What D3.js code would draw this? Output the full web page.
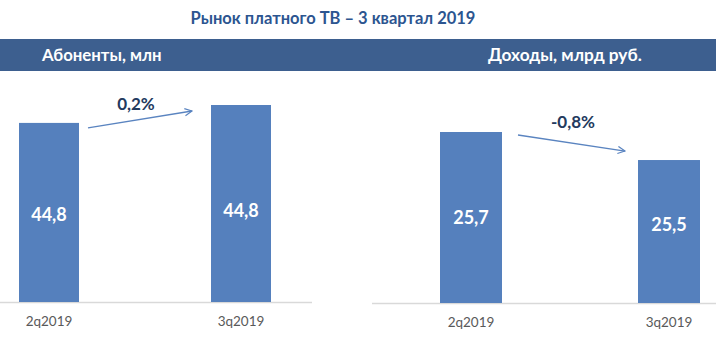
<!DOCTYPE html>
<html><head><meta charset="utf-8">
<script src="https://cdn.jsdelivr.net/npm/d3@7"></script>
<style>
html,body{margin:0;padding:0;background:#fff;}
svg{display:block;font-family:Lato,"Open Sans",sans-serif;}
</style></head>
<body>
<svg id="chart" width="716" height="337"></svg>
<script>
// ---- data ----
const title = "Рынок платного ТВ – 3 квартал 2019";
const categories = ["2q2019", "3q2019"];
const subscribers = [44.76, 44.84];        // млн
const subscriberLabels = ["44,8", "44,8"];
const subscriberChange = "0,2%";
const revenue = [25.7, 25.5];              // млрд руб.
const revenueLabels = ["25,7", "25,5"];
const revenueChange = "-0,8%";
const panelTitles = ["Абоненты, млн", "Доходы, млрд руб."];

const svg = d3.select("#chart");
const BAR = "#5580bd", BAND = "#3d5f8f", DARK = "#233a5e";

svg.append("defs").append("marker")
  .attr("id","arr").attr("viewBox","0 0 10 10").attr("refX",9).attr("refY",5)
  .attr("markerWidth",9).attr("markerHeight",9).attr("markerUnits","userSpaceOnUse")
  .attr("orient","auto")
  .append("path").attr("d","M1,1 L9,5 L1,9").attr("fill","none")
  .attr("stroke","#5a84c0").attr("stroke-width",1.3);

// title
svg.append("text").attr("x",333).attr("y",24).attr("text-anchor","middle")
  .attr("font-size",16.5).attr("font-weight","bold").attr("fill","#2c5590").text(title);

// header band
svg.append("rect").attr("x",0).attr("y",39).attr("width",716).attr("height",32).attr("fill",BAND);
svg.append("text").attr("x",42).attr("y",61).attr("font-size",16.8).attr("font-weight","bold")
  .attr("fill","#fff").text(panelTitles[0]);
svg.append("text").attr("x",488).attr("y",61).attr("font-size",17.3).attr("font-weight","bold")
  .attr("fill","#fff").text(panelTitles[1]);

function panel(cfg){
  const x = d3.scaleBand().domain(categories).range(cfg.xRange)
    .paddingInner(cfg.pi).paddingOuter(cfg.pi/2);
  const y = d3.scaleLinear().domain(cfg.yDomain).range(cfg.yRange);
  const base = cfg.yRange[0];
  const g = svg.append("g");
  // axis line
  g.append("line").attr("x1",cfg.axisX[0]).attr("x2",cfg.axisX[1])
    .attr("y1",base+0.5).attr("y2",base+0.5).attr("stroke","#d9d9d9").attr("stroke-width",1.5);
  // bars
  g.selectAll("rect.bar").data(cfg.values).join("rect").attr("class","bar")
    .attr("x",(d,i)=>x(categories[i])).attr("width",x.bandwidth())
    .attr("y",d=>y(d)).attr("height",d=>base-y(d)).attr("fill",BAR);
  // value labels
  g.selectAll("text.val").data(cfg.values).join("text").attr("class","val")
    .attr("x",(d,i)=>x(categories[i])+x.bandwidth()/2)
    .attr("y",d=>((y(d)+base)/2)*0.5+(base-85)*0.5)
    .attr("dy","0.35em").attr("text-anchor","middle")
    .attr("font-size",18).attr("font-weight","bold").attr("fill","#fff")
    .text((d,i)=>cfg.labels[i]);
  // category labels (axis)
  const ax = d3.axisBottom(x).tickSize(0).tickPadding(14);
  const axg = g.append("g").attr("transform",`translate(0,${base})`).call(ax);
  axg.select(".domain").remove();
  axg.selectAll("text").attr("font-size",13.5).attr("fill","#595959")
    .attr("font-family","Lato,'Open Sans',sans-serif");
  // arrow
  const x0 = x(categories[0])+x.bandwidth()+cfg.arrow[0];
  const y0 = y(cfg.values[0])+cfg.arrow[1];
  const x1 = x(categories[1])+cfg.arrow[2];
  const y1 = y(cfg.values[1])+cfg.arrow[3];
  g.append("line").attr("x1",x0).attr("y1",y0).attr("x2",x1).attr("y2",y1)
    .attr("stroke","#5a84c0").attr("stroke-width",1.3).attr("marker-end","url(#arr)");
  g.append("text").attr("x",cfg.changePos[0]).attr("y",cfg.changePos[1])
    .attr("text-anchor","middle").attr("font-size",17).attr("font-weight","bold")
    .attr("fill",DARK).text(cfg.change);
}

panel({values:subscribers, labels:subscriberLabels, change:subscriberChange,
  xRange:[-47,337], pi:0.6875, yDomain:[43.96,44.84], yRange:[302,105],
  axisX:[0,312], arrow:[9,5,-19,6], changePos:[136,110]});
panel({values:revenue, labels:revenueLabels, change:revenueChange,
  xRange:[372,768], pi:0.6869, yDomain:[24.48,25.7], yRange:[303,132],
  axisX:[372,716], arrow:[16,3,-13,-9], changePos:[573,128]});
</script>
</body></html>
